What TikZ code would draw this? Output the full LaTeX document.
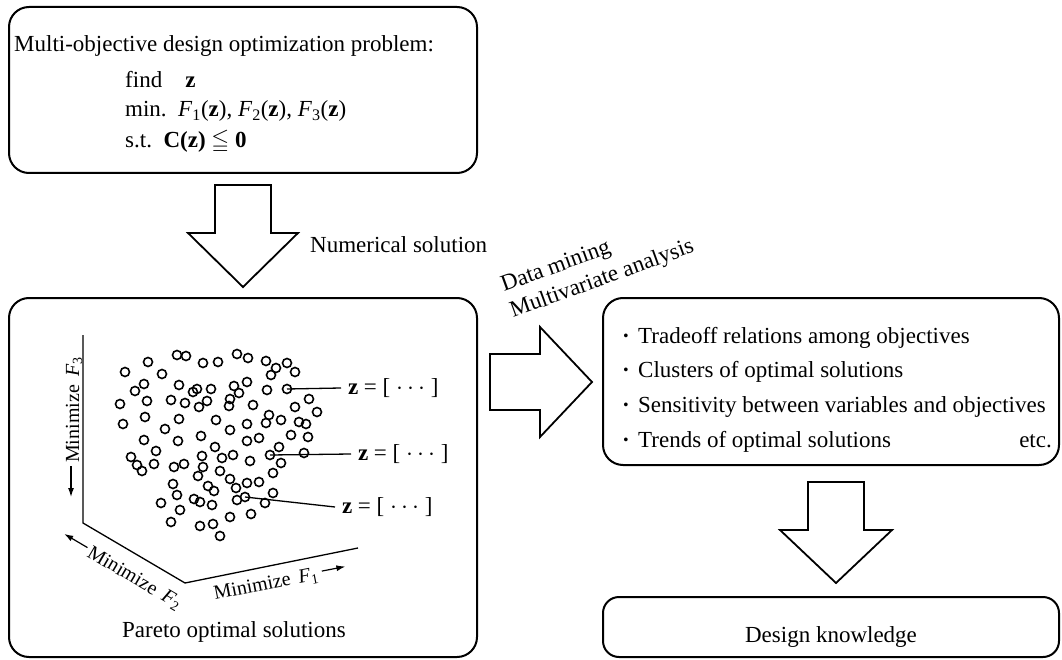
\documentclass[tikz,border=0pt]{standalone}
\usepackage{amssymb}
\usepackage{fontspec}
\setmainfont{Liberation Serif}
\usetikzlibrary{arrows.meta,positioning,calc}
\newcommand{\Fz}[1]{\textit{F}\textsubscript{#1}(\textbf{z})}
\newcommand{\itm}{\makebox[16pt][l]{\textbf{\textperiodcentered}}}

\begin{document}
\begin{tikzpicture}[x=1pt,y=-1pt,>=Latex,font=\fontsize{23}{28}\selectfont,
 box/.style={draw,line width=2pt,rounded corners=20pt,inner sep=0pt,outer sep=0pt,anchor=north west},
 txt/.style={inner sep=0pt,anchor=base west},
 blk/.style={draw,line width=1.8pt,fill=white,line join=miter},
 dot/.style={circle,draw,line width=1.6pt,minimum size=9pt,inner sep=0pt},
 lead/.style={line width=1.3pt},
 zlbl/.style={inner xsep=7pt,inner ysep=0pt,outer sep=0pt,anchor=west},
 axlbl/.style={inner sep=0pt,font=\fontsize{20}{24}\selectfont,text height=16pt,text depth=0pt,anchor=base west},
 axarr/.style={line width=1.2pt,-{Latex[length=9pt,width=6pt]}}]
\useasboundingbox (0,0) rectangle (1062,660);

\node[box,minimum width=468pt,minimum height=166pt] (prob) at (9,7) {};
\node[txt] (title) at (14,52) {Multi-objective design optimization problem:};
\node[txt] (find) at (125,88) {find\quad\textbf{z}};
\node[txt] (min) at (125,117) {min.\enspace\Fz{1}, \Fz{2}, \Fz{3}};
\node[txt] (st) at (125,148) {s.t.\enspace\textbf{C(z)} $\leqq$ \textbf{0}};

\draw[blk] (215,185) -- (271,185) -- (271,233) -- (298,233) -- (243,287) -- (188,233) -- (215,233) -- cycle;
\node[txt] (numsol) at (310,253) {Numerical solution};

\node[box,minimum width=468pt,minimum height=359pt] (pareto) at (9,298) {};
\coordinate (axtop) at (83,335);
\coordinate (axbend) at (83,523);
\coordinate (axcorner) at (185,583);
\coordinate (axright) at (358,548);
\draw[line width=1.3pt] (axtop) -- (axbend) -- (axcorner) -- (axright);
\node[axlbl,rotate=90] (lblF3) at (79,463) {Minimize\,\ \textit{F}\textsubscript{3}};
\node[axlbl,rotate=-30.5] (lblF2) at (86,556) {Minimize\,\ \textit{F}\textsubscript{2}};
\node[axlbl,rotate=11] (lblF1) at (215,600) {Minimize\,\ \textit{F}\textsubscript{1}};
\draw[axarr] ($(lblF3.west)!-3pt!(lblF3.east)$) -- ($(lblF3.west)!-34pt!(lblF3.east)$);
\draw[axarr] ($(lblF2.west)!-3pt!(lblF2.east)$) -- ($(lblF2.west)!-30pt!(lblF2.east)$);
\draw[axarr] ($(lblF1.east)!-4pt!(lblF1.west)$) -- ($(lblF1.east)!-28pt!(lblF1.west)$);

\foreach \x/\y [count=\i] in {148/362,177/355,186/356,203/363,218/362,237/354,125/372,162/374,144/384,135/391,
 179/385,193/392,197/389,211/389,234/386,120/404,147/401,171/400,185/403,199/407,
 207/401,230/399,229/406,239/393,123/424,145/417,179/419,165/429,216/420,230/430,
 201/436,144/440,178/441,248/358,266/361,276/368,287/363,295/372,271/375,247/382,
 267/390,253/405,309/399,295/407,317/412,269/415,281/420,266/423,299/422,306/424,
 247/424,291/435,308/437,259/438,247/441,156/451,215/447,131/457,137/465,142/471,
 154/464,174/467,184/464,202/456,203/467,198/476,222/458,233/455,220/471,230/479,
 236/488,173/484,177/495,208/486,214/491,161/503,194/499,200/502,212/505,237/500,
 180/510,171/522,230/517,200/526,213/524,220/536,279/447,250/461,281/463,304/453,
 273/473,247/483,259/482,273/493,265/503,251/514}
  \node[dot] (s\i) at (\x,\y) {};
\node[dot] (sz1) at (287,389) {};
\node[dot] (sz2) at (270,455) {};
\node[dot] (sz3) at (245,497) {};
\node[zlbl] (z1) at (341,388) {\textbf{z} = [ $\cdots$ ]};
\node[zlbl] (z2) at (351,454) {\textbf{z} = [ $\cdots$ ]};
\node[zlbl] (z3) at (335,507) {\textbf{z} = [ $\cdots$ ]};
\draw[lead] (sz1.center) -- (z1.west);
\draw[lead] (sz2.center) -- (z2.west);
\draw[lead] (sz3.center) -- (z3.west);
\node[inner sep=0pt,anchor=base] (partxt) at (234,637) {Pareto optimal solutions};

\draw[blk] (490,354) -- (540,354) -- (540,327) -- (592,382) -- (540,437) -- (540,410) -- (490,410) -- cycle;
\node[txt,rotate=20] (dm) at (504,292) {Data mining};
\node[txt,rotate=20] (mva) at (513,318) {Multivariate analysis};

\node[box,minimum width=456pt,minimum height=167pt] (know) at (603,298) {};
\node[txt] (k1) at (622,343) {\itm Tradeoff relations among objectives};
\node[txt] (k2) at (622,377) {\itm Clusters of optimal solutions};
\node[txt] (k3) at (622,412) {\itm Sensitivity between variables and objectives};
\node[txt] (k4) at (622,447) {\itm Trends of optimal solutions};
\node[inner sep=0pt,anchor=base east] (etc) at (1052,447) {etc.};

\draw[blk] (808,482) -- (864,482) -- (864,530) -- (892,530) -- (836,583) -- (780,530) -- (808,530) -- cycle;

\node[box,minimum width=456pt,minimum height=60pt,rounded corners=16pt] (design) at (603,597) {};
\node[inner sep=0pt,anchor=base] (designtxt) at (831,642) {Design knowledge};
\end{tikzpicture}
\end{document}
